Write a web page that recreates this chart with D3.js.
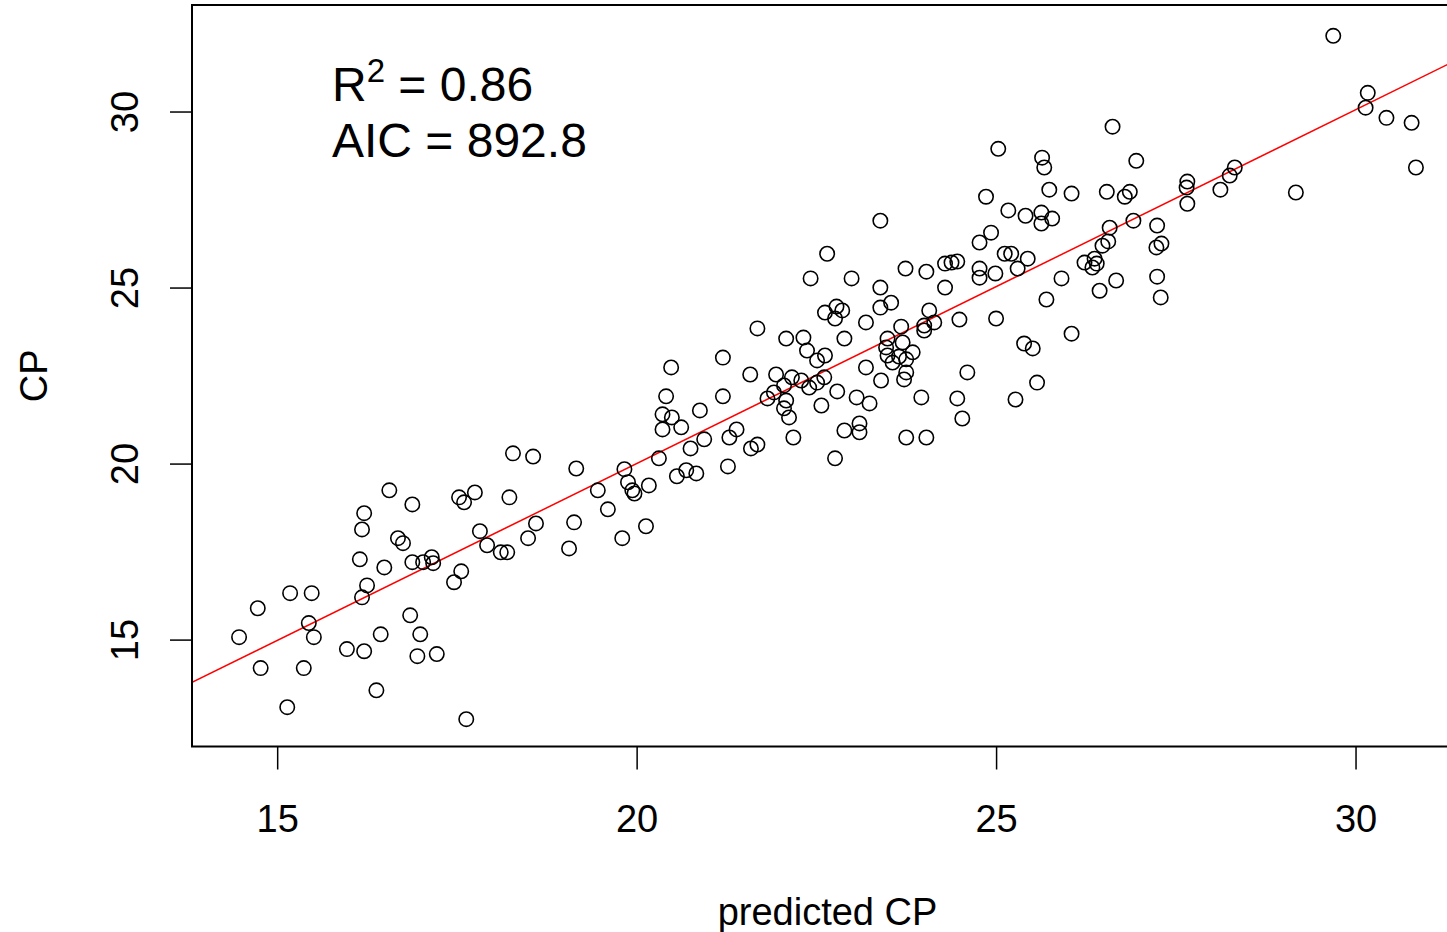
<!DOCTYPE html>
<html>
<head>
<meta charset="utf-8">
<script src="https://cdn.jsdelivr.net/npm/d3@7"></script>
<style>
  body { margin: 0; background: #fff; }
  svg { display: block; font-family: "Liberation Sans", Arial, sans-serif; }
</style>
</head>
<body>
<svg width="1447" height="932"></svg>
<script>
var predicted = [
  14.47, 14.73, 14.77, 15.14, 15.18, 15.48, 15.44, 15.51, 15.37, 15.97,
  16.21, 16.21, 16.18, 16.15, 16.25, 16.18, 16.38, 16.44, 16.49, 16.56,
  16.68, 16.75, 16.88, 16.85, 16.88, 16.95, 16.99, 17.03, 17.15, 17.17,
  17.22, 17.46, 17.56, 17.53, 17.60, 17.75, 17.63, 17.82, 17.92, 18.11,
  18.20, 18.23, 18.28, 18.56, 18.49, 18.60, 19.06, 19.13, 19.16, 19.46,
  19.60, 19.83, 19.88, 19.97, 19.94, 20.13, 20.17, 19.80, 20.31, 20.36,
  20.49, 20.62, 20.36, 20.41, 20.48, 20.56, 20.69, 20.83, 20.75, 20.88,
  20.94, 21.20, 21.20, 21.29, 21.27, 21.39, 21.58, 21.59, 21.68, 21.82,
  21.68, 21.94, 22.16, 22.29, 22.05, 21.91, 22.08, 22.05, 22.12, 22.40,
  22.51, 22.61, 22.57, 22.08, 22.32, 22.37, 22.62, 22.51, 22.42, 22.65,
  22.18, 22.76, 22.79, 22.62, 22.78, 22.86, 22.76, 22.89, 22.99, 23.06,
  23.24, 22.89, 23.10, 23.10, 23.19, 23.19, 23.39, 23.39, 23.54, 23.39,
  23.68, 23.49, 23.70, 23.84, 23.49, 23.56, 23.75, 23.75, 23.72, 23.40,
  23.74, 23.75, 23.96, 24.03, 24.07, 24.00, 24.14, 24.00, 24.03, 24.29,
  24.38, 24.46, 24.29, 24.49, 24.60, 24.46, 24.53, 24.77, 24.93, 24.77,
  24.77, 24.99, 25.00, 24.86, 25.03, 25.17, 25.41, 25.63, 25.78, 25.63,
  25.64, 25.67, 25.74, 25.12, 25.21, 25.44, 25.30, 25.91, 25.70, 25.39,
  25.51, 25.57, 25.27, 26.05, 26.05, 26.62, 26.95, 26.54, 26.79, 26.86,
  26.91, 26.58, 27.24, 26.48, 26.56, 26.23, 26.37, 26.40, 26.34, 26.44,
  26.67, 27.23, 27.30, 27.24, 27.29, 27.66, 27.65, 27.66, 28.32, 28.25,
  28.12, 29.17, 29.69, 30.17, 30.14, 30.43, 30.78, 30.84, 23.47, 23.65
];
var cp = [
  15.07, 15.89, 14.19, 13.08, 16.32, 16.32, 15.47, 15.07, 14.19, 14.73,
  14.67, 18.59, 18.13, 17.28, 16.54, 16.20, 13.56, 15.15, 17.05, 19.24,
  17.88, 17.74, 18.84, 15.69, 17.20, 14.53, 15.15, 17.20, 17.34, 17.17,
  14.59, 16.63, 16.94, 19.04, 18.90, 19.18, 12.74, 18.08, 17.68, 17.48,
  17.48, 19.04, 20.29, 20.20, 17.88, 18.30, 17.59, 18.33, 19.86, 19.24,
  18.70, 19.84, 19.47, 19.15, 19.24, 18.22, 19.38, 17.88, 20.15, 21.40,
  21.31, 21.03, 20.97, 21.91, 22.73, 19.64, 19.81, 19.72, 20.43, 21.51,
  20.69, 23.01, 21.91, 20.74, 19.92, 20.97, 22.53, 20.43, 20.54, 21.85,
  23.84, 22.53, 22.45, 22.36, 22.22, 22.02, 21.79, 21.57, 21.31, 22.16,
  22.30, 22.45, 21.65, 23.55, 23.58, 23.21, 23.07, 22.93, 25.26, 25.96,
  20.74, 20.15, 22.05, 24.29, 24.46, 24.35, 24.12, 23.55, 25.26, 21.88,
  21.71, 20.94, 21.14, 20.89, 24.01, 22.73, 26.90, 25.00, 24.57, 24.43,
  23.89, 23.55, 23.44, 23.16, 23.07, 22.87, 22.96, 22.59, 22.39, 22.36,
  25.54, 20.74, 21.88, 20.74, 24.35, 23.92, 24.01, 23.78, 25.45, 25.68,
  25.71, 25.74, 25.00, 24.09, 22.59, 21.85, 21.28, 26.28, 26.56, 25.54,
  25.28, 25.40, 24.12, 27.58, 28.94, 27.19, 27.04, 27.13, 26.96, 26.82,
  28.69, 28.41, 27.78, 25.96, 25.96, 25.82, 25.54, 25.26, 24.66, 23.41,
  23.27, 22.30, 21.82, 23.69, 27.67, 29.57, 28.60, 27.72, 27.58, 27.72,
  26.90, 26.70, 26.76, 26.19, 26.31, 25.71, 25.82, 25.68, 25.57, 24.91,
  25.20, 26.14, 26.25, 25.31, 24.72, 28.01, 27.84, 27.38, 28.41, 28.18,
  27.78, 27.70, 32.15, 30.53, 30.11, 29.82, 29.68, 28.41, 23.30, 23.04
];
var xTicks = [15, 20, 25, 30];
var yTicks = [15, 20, 25, 30];
var fitIntercept = -0.1, fitSlope = 1.005;   // red regression line
var r2Text = "0.86", aicText = "892.8";
var xTitle = "predicted CP", yTitle = "CP";

var svg = d3.select("svg");
var plotLeft = 192, plotRight = 1463, plotTop = 5, plotBottom = 746.5;

// R-style axis limits: data range padded by 4% each side
function padded(arr) {
  var e = d3.extent(arr), p = (e[1] - e[0]) * 0.04;
  return [e[0] - p, e[1] + p];
}
var xScale = d3.scaleLinear().domain(padded(predicted)).range([plotLeft, plotRight]);
var yScale = d3.scaleLinear().domain(padded(cp)).range([plotBottom, plotTop + 3.5]);

svg.append("clipPath").attr("id", "plotclip")
  .append("rect").attr("x", plotLeft).attr("y", plotTop)
  .attr("width", plotRight - plotLeft).attr("height", plotBottom - plotTop);

// x axis
var xAxis = svg.append("g")
  .attr("transform", "translate(0," + plotBottom + ")")
  .call(d3.axisBottom(xScale).tickValues(xTicks).tickSize(23).tickFormat(d3.format("d")));
xAxis.select(".domain").remove();
xAxis.selectAll("line").attr("stroke", "#000").attr("stroke-width", 1.5);
xAxis.selectAll("text")
  .attr("y", 85).attr("dy", 0)
  .attr("fill", "#000")
  .style("font-size", "38px")
  .style("font-family", "Liberation Sans, Arial, sans-serif");

// y axis
var yAxis = svg.append("g")
  .attr("transform", "translate(" + plotLeft + ",0)")
  .call(d3.axisLeft(yScale).tickValues(yTicks).tickSize(22).tickFormat(d3.format("d")));
yAxis.select(".domain").remove();
yAxis.selectAll("line").attr("stroke", "#000").attr("stroke-width", 1.5);
yAxis.selectAll("text")
  .attr("x", 0).attr("dy", 0)
  .attr("text-anchor", "middle")
  .attr("transform", "translate(-54,0) rotate(-90)")
  .attr("fill", "#000")
  .style("font-size", "38px")
  .style("font-family", "Liberation Sans, Arial, sans-serif");

// fitted line
var x0 = xScale.domain()[0], x1 = xScale.domain()[1];
svg.append("line")
  .attr("clip-path", "url(#plotclip)")
  .attr("x1", xScale(x0)).attr("y1", yScale(fitIntercept + fitSlope * x0))
  .attr("x2", xScale(x1)).attr("y2", yScale(fitIntercept + fitSlope * x1))
  .attr("stroke", "#ff0000").attr("stroke-width", 1.5);

// points
svg.append("g").selectAll("circle")
  .data(predicted)
  .enter().append("circle")
  .attr("cx", function(d) { return xScale(d); })
  .attr("cy", function(d, i) { return yScale(cp[i]); })
  .attr("r", 7.2)
  .attr("fill", "none")
  .attr("stroke", "#000")
  .attr("stroke-width", 1.6);

// frame
svg.append("rect")
  .attr("x", plotLeft).attr("y", plotTop)
  .attr("width", plotRight - plotLeft).attr("height", plotBottom - plotTop)
  .attr("fill", "none").attr("stroke", "#000").attr("stroke-width", 2);

// axis titles
svg.append("text")
  .attr("x", (plotLeft + plotRight) / 2).attr("y", 925)
  .attr("text-anchor", "middle")
  .style("font-size", "38px")
  .text(xTitle);
svg.append("text")
  .attr("transform", "translate(47," + (plotTop + plotBottom) / 2 + ") rotate(-90)")
  .attr("text-anchor", "middle")
  .style("font-size", "38px")
  .text(yTitle);

// annotation
var r2 = svg.append("text").attr("x", 332).attr("y", 101).style("font-size", "48px");
r2.append("tspan").text("R");
r2.append("tspan").attr("dy", -19).style("font-size", "33px").text("2");
r2.append("tspan").attr("dy", 19).text(" = " + r2Text);
svg.append("text").attr("x", 332).attr("y", 157).style("font-size", "48px")
  .text("AIC = " + aicText);
</script>
</body>
</html>
